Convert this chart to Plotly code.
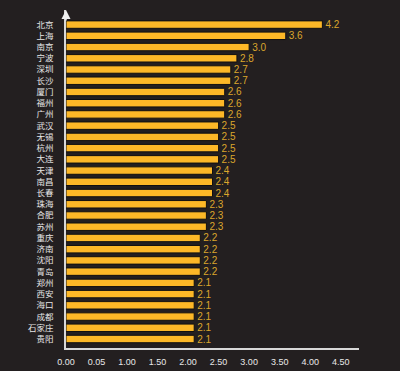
import plotly.graph_objects as go

cities = ["北京", "上海", "南京", "宁波", "深圳", "长沙", "厦门", "福州", "广州",
          "武汉", "无锡", "杭州", "大连", "天津", "南昌", "长春", "珠海", "合肥",
          "苏州", "重庆", "济南", "沈阳", "青岛", "郑州", "西安", "海口", "成都",
          "石家庄", "贵阳"]
values = [4.2, 3.6, 3.0, 2.8, 2.7, 2.7, 2.6, 2.6, 2.6,
          2.5, 2.5, 2.5, 2.5, 2.4, 2.4, 2.4, 2.3, 2.3,
          2.3, 2.2, 2.2, 2.2, 2.2, 2.1, 2.1, 2.1, 2.1,
          2.1, 2.1]
tick_vals = [0, 0.5, 1.0, 1.5, 2.0, 2.5, 3.0, 3.5, 4.0, 4.5]
tick_text = ["0.00", "0.05", "1.00", "1.50", "2.00", "2.50", "3.00", "3.50", "4.00", "4.50"]

BG = "#231f20"
BAR = "#fdb827"

fig = go.Figure()
fig.add_trace(go.Bar(
    x=values, y=cities, orientation="h",
    marker=dict(color=BAR, line=dict(color="#111010", width=1)),
    width=0.66,
    text=[f"{v:.1f}" for v in values],
    textposition="outside",
    constraintext="none",
    textfont=dict(color="#dba62c", size=10, family="Liberation Sans Narrow, Liberation Sans, Arial"),
    cliponaxis=False,
    hoverinfo="skip",
))

n = len(cities)
fig.update_layout(
    width=400, height=371,
    paper_bgcolor=BG, plot_bgcolor=BG,
    margin=dict(l=66, r=41, t=10, b=23),
    showlegend=False,
    uniformtext=dict(minsize=10, mode="show"),
    xaxis=dict(
        range=[0, 4.8], tickmode="array", tickvals=tick_vals, ticktext=tick_text,
        showgrid=False, zeroline=False, automargin=False,
        showline=True, linecolor="#d8d8d8", linewidth=1.5,
        ticks="", tickfont=dict(color="#e8e8e8", size=9,
                                family="Liberation Sans Narrow, Liberation Sans, Arial"),
        ticklabelstandoff=4,
    ),
    yaxis=dict(
        categoryorder="array", categoryarray=cities,
        tickmode="array", tickvals=cities, ticktext=cities,
        range=[n - 1 + 0.8, -1.3], automargin=False,
        showgrid=False, zeroline=False,
        showline=True, linecolor="#d8d8d8", linewidth=1.5,
        ticks="", ticklabelstandoff=9,
        tickfont=dict(color="#e6e6e6", size=8.5, family="Noto Sans CJK SC"),
    ),
)
fig.add_annotation(
    xref="x", yref="paper", x=0, y=1.0, ax=0, ay=12,
    showarrow=True, arrowhead=2, arrowsize=1.2, arrowwidth=1.5,
    arrowcolor="#f0f0f0", text="",
)

fig.write_html(
    "out.html",
    config={"displayModeBar": False},
    post_script="document.body.style.margin='0';document.body.style.background='#231f20';",
)
